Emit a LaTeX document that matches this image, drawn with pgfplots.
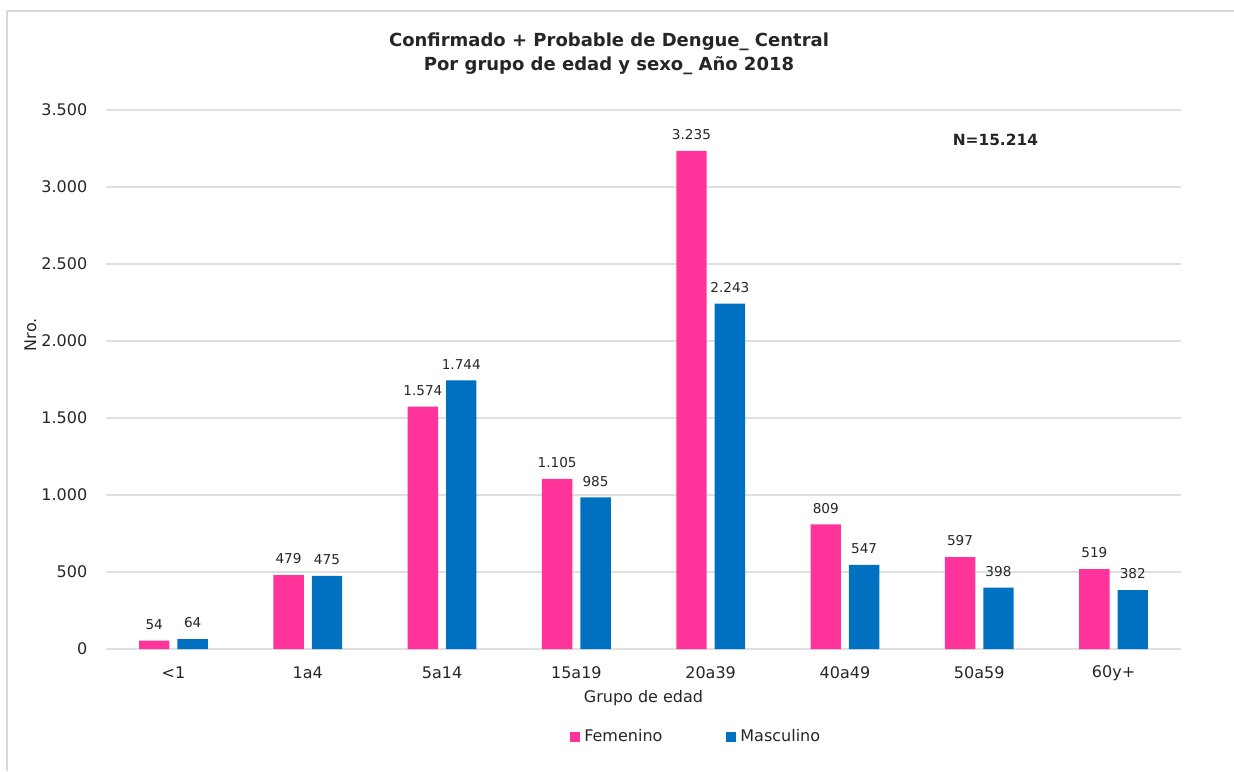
\documentclass[border=0pt]{standalone}
\usepackage{fontspec}
\setmainfont{DejaVu Sans}
\usepackage{pgfplots}
\pgfplotsset{compat=1.18}
\definecolor{fem}{HTML}{FF3399}
\definecolor{mas}{HTML}{0070C0}
\definecolor{gridc}{HTML}{E0E0E0}
\definecolor{bord}{HTML}{D9D9D9}
\definecolor{txt}{HTML}{262626}
\begin{document}
\begin{tikzpicture}
\useasboundingbox (0,0) rectangle (617pt,385.5pt);
\draw[bord, line width=1pt] (3.25pt,0) -- (3.25pt,380pt) -- (617pt,380pt);
\node[font=\bfseries\fontsize{9}{12}\selectfont, align=center, text=txt] at (304.5pt,358.5pt) {Confirmado + Probable de Dengue\_ Central\\Por grupo de edad y sexo\_ Año 2018};
\begin{axis}[
  at={(53.15pt,61pt)}, anchor=south west,
  scale only axis, width=537.2pt, height=269.5pt,
  xmin=-0.5, xmax=7.5, ymin=0, ymax=3500,
  ytick={0,500,...,3500},
  xtick={0,...,7},
  xticklabels={<1,1a4,5a14,15a19,20a39,40a49,50a59,60y+},
  major tick length=0pt,
  axis line style={draw=none},
  ymajorgrids, grid style={gridc, line width=0.6pt},
  /pgf/number format/.cd, 1000 sep={.}, assume math mode=true,
  /pgfplots/.cd,
  ticklabel style={font=\fontsize{8}{10}\selectfont, text=txt},
  yticklabel style={xshift=-6pt},
  xticklabel style={anchor=center, yshift=-12pt},
  xlabel={Grupo de edad},
  ylabel={Nro.},
  label style={font=\fontsize{8}{10}\selectfont, text=txt},
  xlabel style={at={(axis description cs:0.5,-0.091)}, anchor=center},
  ylabel style={at={(axis description cs:-0.0707,0.583)}, anchor=center},
  ybar, bar width=15.2pt,
  nodes near coords,
  nodes near coords style={font=\fontsize{6.8}{8}\selectfont, text=txt, yshift=2pt},
  legend columns=2,
  legend style={at={(axis description cs:0.55,-0.163)}, anchor=center, draw=none, font=\fontsize{8}{10}\selectfont, text=txt, /tikz/every even column/.append style={column sep=30pt}},
  legend image code/.code={\fill[#1] (0pt,-2.5pt) rectangle (5pt,2.5pt);},
]
\addplot[fill=fem, draw=none, bar shift=-9.6pt] coordinates {(0,54) (1,479) (2,1574) (3,1105) (4,3235) (5,809) (6,597) (7,519)};
\addlegendentry{Femenino}
\addplot[fill=mas, draw=none, bar shift=9.6pt] coordinates {(0,64) (1,475) (2,1744) (3,985) (4,2243) (5,547) (6,398) (7,382)};
\addlegendentry{Masculino}
\node[font=\bfseries\fontsize{7.7}{9}\selectfont, text=txt] at (axis cs:6.12,3305) {N=15.214};
\end{axis}
\end{tikzpicture}
\end{document}
